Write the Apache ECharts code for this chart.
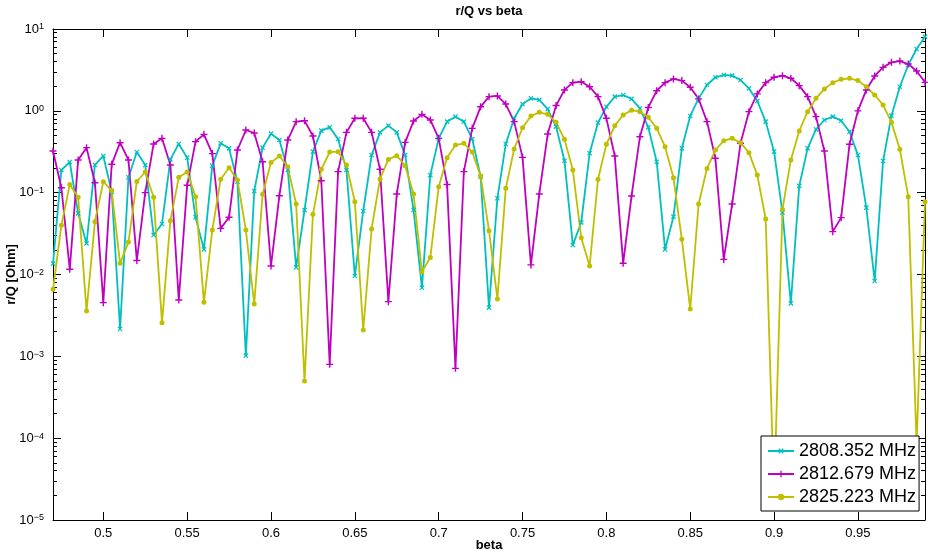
<!DOCTYPE html>
<html>
<head>
<meta charset="utf-8">
<title>r/Q vs beta</title>
<script src="https://cdn.jsdelivr.net/npm/echarts@6.0.0/dist/echarts.min.js"></script>
<style>
    html, body { margin: 0; padding: 0; background: #fff; }
    #chart { width: 928px; height: 552px; }
</style>
</head>
<body>
<div id="chart"></div>
<script>
// beta sampling (x)
var beta = [
    0.470, 0.475, 0.480, 0.485, 0.490, 0.495, 0.500, 0.505, 0.510, 0.515,
    0.520, 0.525, 0.530, 0.535, 0.540, 0.545, 0.550, 0.555, 0.560, 0.565,
    0.570, 0.575, 0.580, 0.585, 0.590, 0.595, 0.600, 0.605, 0.610, 0.615,
    0.620, 0.625, 0.630, 0.635, 0.640, 0.645, 0.650, 0.655, 0.660, 0.665,
    0.670, 0.675, 0.680, 0.685, 0.690, 0.695, 0.700, 0.705, 0.710, 0.715,
    0.720, 0.725, 0.730, 0.735, 0.740, 0.745, 0.750, 0.755, 0.760, 0.765,
    0.770, 0.775, 0.780, 0.785, 0.790, 0.795, 0.800, 0.805, 0.810, 0.815,
    0.820, 0.825, 0.830, 0.835, 0.840, 0.845, 0.850, 0.855, 0.860, 0.865,
    0.870, 0.875, 0.880, 0.885, 0.890, 0.895, 0.900, 0.905, 0.910, 0.915,
    0.920, 0.925, 0.930, 0.935, 0.940, 0.945, 0.950, 0.955, 0.960, 0.965,
    0.970, 0.975, 0.980, 0.985, 0.990
];

// r/Q [Ohm] per mode
var rq2808 = [
    0.0136, 0.189, 0.237, 0.0559, 0.024, 0.218, 0.281, 0.103, 0.00216, 0.154,
    0.314, 0.218, 0.0304, 0.0414, 0.255, 0.394, 0.268, 0.050, 0.0203, 0.214,
    0.401, 0.348, 0.136, 0.00102, 0.105, 0.355, 0.526, 0.440, 0.189, 0.0122,
    0.0614, 0.317, 0.573, 0.628, 0.453, 0.189, 0.0096, 0.0597, 0.288, 0.546,
    0.659, 0.546, 0.288, 0.0614, 0.0069, 0.164, 0.461, 0.738, 0.849, 0.738,
    0.453, 0.157, 0.00394, 0.0853, 0.394, 0.810, 1.21, 1.42, 1.36, 1.05,
    0.641, 0.246, 0.0229, 0.0434, 0.303, 0.717, 1.12, 1.49, 1.56, 1.40,
    1.07, 0.628, 0.239, 0.0203, 0.0509, 0.348, 0.865, 1.42, 2.07, 2.57,
    2.74, 2.69, 2.38, 1.88, 1.32, 0.738, 0.317, 0.057, 0.00444, 0.121,
    0.348, 0.594, 0.773, 0.849, 0.758, 0.556, 0.288, 0.0656, 0.00833, 0.244,
    0.873, 1.97, 3.63, 5.70, 8.06
];
var rq2812 = [
    0.323, 0.115, 0.0116, 0.251, 0.355, 0.132, 0.00453, 0.222, 0.408, 0.251,
    0.0148, 0.100, 0.394, 0.461, 0.218, 0.00488, 0.123, 0.420, 0.516, 0.300,
    0.0366, 0.050, 0.332, 0.583, 0.536, 0.239, 0.0127, 0.0918, 0.440, 0.738,
    0.758, 0.492, 0.140, 0.000798, 0.181, 0.546, 0.810, 0.810, 0.546, 0.193,
    0.00466, 0.0964, 0.412, 0.752, 0.906, 0.773, 0.461, 0.126, 0.000713, 0.181,
    0.611, 1.12, 1.49, 1.52, 1.21, 0.738, 0.270, 0.0131, 0.0964, 0.521,
    1.16, 1.80, 2.21, 2.27, 1.97, 1.49, 0.810, 0.281, 0.0137, 0.091,
    0.483, 1.10, 1.76, 2.21, 2.45, 2.34, 1.94, 1.40, 0.738, 0.263,
    0.0153, 0.0727, 0.401, 0.977, 1.61, 2.21, 2.57, 2.69, 2.50, 2.03,
    1.49, 0.849, 0.323, 0.0334, 0.0495, 0.390, 1.00, 1.80, 2.67, 3.40,
    3.91, 4.06, 3.73, 3.07, 2.23
];
var rq2825 = [
    0.00659, 0.0399, 0.126, 0.0877, 0.00358, 0.0442, 0.136, 0.106, 0.0137, 0.0249,
    0.137, 0.179, 0.0877, 0.00258, 0.0455, 0.154, 0.179, 0.0894, 0.00457, 0.0350,
    0.146, 0.202, 0.143, 0.0350, 0.00436, 0.0955, 0.233, 0.281, 0.208, 0.0727,
    0.000500, 0.0543, 0.193, 0.314, 0.317, 0.218, 0.0776, 0.00210, 0.0360, 0.147,
    0.255, 0.283, 0.214, 0.0964, 0.0108, 0.0161, 0.118, 0.268, 0.382, 0.401,
    0.314, 0.160, 0.0343, 0.00502, 0.113, 0.342, 0.622, 0.865, 0.959, 0.906,
    0.723, 0.449, 0.189, 0.0282, 0.0127, 0.146, 0.390, 0.659, 0.889, 1.02,
    0.977, 0.833, 0.611, 0.365, 0.152, 0.0269, 0.00379, 0.0727, 0.198, 0.332,
    0.432, 0.461, 0.408, 0.308, 0.164, 0.0477, 0.00002, 0.0626, 0.251, 0.567,
    0.977, 1.42, 1.85, 2.21, 2.43, 2.50, 2.34, 1.97, 1.56, 1.18,
    0.723, 0.339, 0.0894, 0.000085, 0.0776
];

var seriesNames = ['2808.352 MHz', '2812.679 MHz', '2825.223 MHz'];
var betaTicks = [0.5, 0.55, 0.6, 0.65, 0.7, 0.75, 0.8, 0.85, 0.9, 0.95];
var decadeTicks = [1e-5, 1e-4, 1e-3, 1e-2, 1e-1, 1, 10];

var FONT = '"Liberation Sans", Arial, Helvetica, sans-serif';
var BLACK = '#000';

// minor log ticks 2..9 in every decade
var minorTicks = [];
for (var d = 0; d < decadeTicks.length - 1; d++) {
    for (var k = 2; k <= 9; k++) {
        minorTicks.push(decadeTicks[d] * k);
    }
}

var plusPath = 'path://M4,0H6V4H10V6H6V10H4V6H0V4H4Z';

var chart = {
    pairs: function (xs, ys) {
        var out = [];
        for (var i = 0; i < xs.length; i++) {
            out.push([xs[i], ys[i]]);
        }
        return out;
    },
    line: function (name, values, color, symbol, rotate, size) {
        return {
            name: name,
            type: 'line',
            xAxisIndex: 0,
            yAxisIndex: 0,
            data: chart.pairs(beta, values),
            symbol: symbol,
            symbolSize: size,
            symbolRotate: rotate,
            showAllSymbol: true,
            lineStyle: { color: color, width: 1.8 },
            itemStyle: { color: color },
            emphasis: { disabled: true }
        };
    },
    xAxis: function (pos, withLabels) {
        var ax = {
            type: 'value',
            min: 0.47,
            max: 0.99,
            position: pos,
            splitLine: { show: false },
            axisLine: { show: true, onZero: false, lineStyle: { color: BLACK, width: 1 } },
            axisTick: { inside: true, length: 8, customValues: betaTicks, lineStyle: { color: BLACK } },
            axisLabel: { show: false }
        };
        if (withLabels) {
            ax.axisLabel = {
                show: true,
                customValues: betaTicks,
                margin: 7,
                color: BLACK,
                fontSize: 13,
                fontFamily: FONT,
                formatter: function (v) { return String(+v.toFixed(2)); }
            };
            ax.name = 'beta';
            ax.nameLocation = 'middle';
            ax.nameGap = 19;
            ax.nameMoveOverlap = false;
            ax.nameTextStyle = { color: BLACK, fontSize: 13, fontWeight: 'bold', fontFamily: FONT };
        }
        return ax;
    },
    yAxis: function (pos, ticks, len, withLabels, showLine) {
        var ax = {
            type: 'log',
            logBase: 10,
            min: 1e-5,
            max: 10,
            position: pos,
            splitLine: { show: false },
            axisLine: { show: showLine, lineStyle: { color: BLACK, width: 1 } },
            axisTick: { inside: true, length: len, customValues: ticks, lineStyle: { color: BLACK } },
            axisLabel: { show: false }
        };
        if (withLabels) {
            ax.axisLabel = {
                show: true,
                customValues: decadeTicks,
                margin: 9,
                formatter: function (v) {
                    var e = Math.round(Math.log10(v));
                    return '{b|10}{s|' + (e < 0 ? '\u2212' + (-e) : e) + '}';
                },
                rich: {
                    b: { fontSize: 13, lineHeight: 13, padding: [3, 0, 0, 0], verticalAlign: 'bottom', color: BLACK, fontFamily: FONT },
                    s: { fontSize: 9, lineHeight: 9, verticalAlign: 'top', color: BLACK, fontFamily: FONT }
                }
            };
            ax.name = 'r/Q [Ohm]';
            ax.nameLocation = 'middle';
            ax.nameGap = 35;
            ax.nameMoveOverlap = false;
            ax.nameTextStyle = { color: BLACK, fontSize: 13, fontWeight: 'bold', fontFamily: FONT };
        }
        return ax;
    },
    show: function () {
        var myChart = echarts.init(document.getElementById('chart'));
        var option = {
            animation: false,
            backgroundColor: '#fff',
            title: {
                text: 'r/Q vs beta',
                left: 489,
                top: 5,
                padding: 0,
                textAlign: 'center',
                textStyle: { color: BLACK, fontSize: 13, fontWeight: 'bold', fontFamily: FONT }
            },
            // fixed plot box, no auto shrinking for labels
            grid: { left: 53, right: 3, top: 29, bottom: 32, outerBoundsMode: 'none', containLabel: false },
            legend: {
                orient: 'vertical',
                left: 761,
                top: 436,
                padding: [6, 3, 5, 6],
                itemGap: 5,
                itemWidth: 26,
                itemHeight: 8,
                backgroundColor: '#fff',
                borderColor: BLACK,
                borderWidth: 1,
                borderRadius: 0,
                textStyle: { color: BLACK, fontSize: 18, fontFamily: FONT },
                data: seriesNames
            },
            xAxis: [chart.xAxis('bottom', true), chart.xAxis('top', false)],
            yAxis: [
                chart.yAxis('left', decadeTicks, 8, true, true),
                chart.yAxis('left', minorTicks, 4, false, false),
                chart.yAxis('right', decadeTicks, 8, false, true),
                chart.yAxis('right', minorTicks, 4, false, false)
            ],
            series: [
                chart.line(seriesNames[0], rq2808, 'rgb(0,191,191)', plusPath, 45, 6),
                chart.line(seriesNames[1], rq2812, 'rgb(191,0,191)', plusPath, 0, 7),
                chart.line(seriesNames[2], rq2825, 'rgb(191,191,0)', 'circle', 0, 5)
            ]
        };
        myChart.setOption(option);
    }
};

chart.show();
</script>
</body>
</html>
